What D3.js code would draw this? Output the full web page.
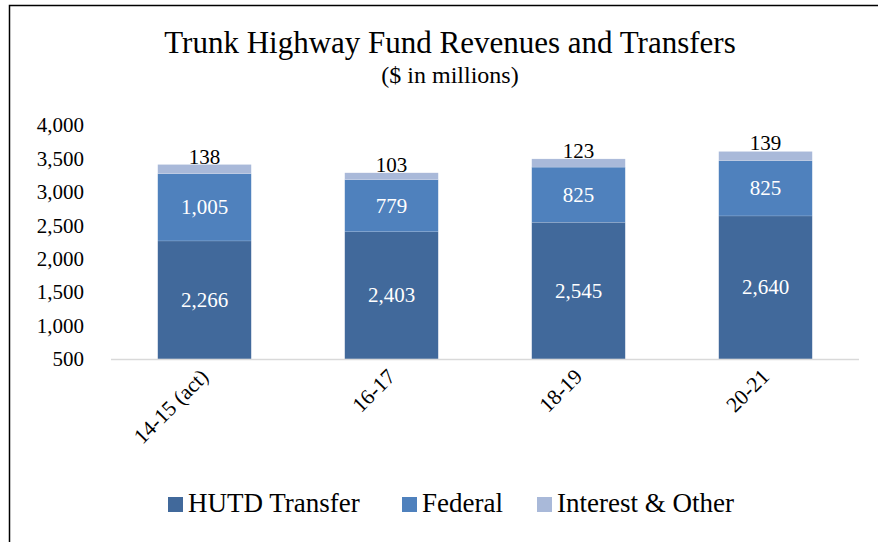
<!DOCTYPE html>
<html>
<head>
<meta charset="utf-8">
<script src="https://cdn.jsdelivr.net/npm/d3@7"></script>
<style>
  body { margin: 0; background: #fff; }
  svg { font-family: "Liberation Serif", "DejaVu Serif", serif; }
</style>
</head>
<body>
<div id="chart"></div>
<script>
const categories = ["14-15 (act)", "16-17", "18-19", "20-21"];
const hutd = [2266, 2403, 2545, 2640];
const federal = [1005, 779, 825, 825];
const interest = [138, 103, 123, 139];
const seriesNames = ["HUTD Transfer", "Federal", "Interest & Other"];
const seriesColors = ["#41699b", "#4f81bd", "#a9b9d9"];
const yTicks = [500, 1000, 1500, 2000, 2500, 3000, 3500, 4000];

const W = 878, H = 542;
const svg = d3.select("#chart").append("svg")
    .attr("width", W).attr("height", H);

// frame of the chart (runs off the right and bottom edge)
svg.append("rect")
    .attr("x", 9.5).attr("y", 5.5)
    .attr("width", 900).attr("height", 600)
    .attr("fill", "none").attr("stroke", "#000").attr("stroke-width", 1.5);

svg.append("text")
    .attr("x", 450).attr("y", 53)
    .attr("text-anchor", "middle")
    .style("font-size", "31px")
    .text("Trunk Highway Fund Revenues and Transfers");
svg.append("text")
    .attr("x", 450).attr("y", 83)
    .attr("text-anchor", "middle")
    .style("font-size", "24px")
    .text("($ in millions)");

const x = d3.scaleBand().domain(categories).range([111, 859])
    .paddingInner(0.5).paddingOuter(0.25);
const y = d3.scaleLinear().domain([500, 4000]).range([359, 125]);

const rows = categories.map((c, i) => ({cat: c, s0: hutd[i], s1: federal[i], s2: interest[i]}));
const stack = d3.stack().keys(["s0", "s1", "s2"])(rows);

// y axis labels
svg.append("g")
    .attr("transform", "translate(84,0)")
    .call(d3.axisLeft(y).tickValues(yTicks).tickSize(0).tickPadding(0).tickFormat(d3.format(",")))
    .call(g => g.select(".domain").remove())
    .selectAll("text")
    .style("font-family", "Liberation Serif, serif")
    .style("font-size", "21px")
    .attr("fill", "#000");

const layers = svg.append("g").selectAll("g")
    .data(stack).enter().append("g")
    .attr("fill", (d, i) => seriesColors[i]);

layers.selectAll("rect")
    .data(d => d).enter().append("rect")
    .attr("x", d => x(d.data.cat))
    .attr("width", x.bandwidth())
    .attr("y", d => y(d[1]))
    .attr("height", d => y(Math.max(d[0], 500)) - y(d[1]))
    .attr("stroke", "#fff").attr("stroke-opacity", 0.25).attr("stroke-width", 0.5);

// labels inside lower two series
stack.slice(0, 2).forEach(layer => {
    svg.append("g").selectAll("text")
        .data(layer).enter().append("text")
        .attr("x", d => x(d.data.cat) + x.bandwidth() / 2)
        .attr("y", d => (y(Math.max(d[0], 500)) + y(d[1])) / 2 + 7)
        .attr("text-anchor", "middle")
        .attr("fill", "#fff")
        .style("font-size", "21px")
        .text(d => d3.format(",")(d[1] - d[0]));
});
// labels above top series
svg.append("g").selectAll("text")
    .data(stack[2]).enter().append("text")
    .attr("x", d => x(d.data.cat) + x.bandwidth() / 2)
    .attr("y", d => y(d[1]) - 1)
    .attr("text-anchor", "middle")
    .attr("fill", "#000")
    .style("font-size", "21px")
    .text(d => d3.format(",")(d[1] - d[0]));

// x axis
svg.append("line")
    .attr("x1", 111).attr("x2", 859)
    .attr("y1", 359.5).attr("y2", 359.5)
    .attr("stroke", "#d9d9d9").attr("stroke-width", 1.5);

svg.append("g").selectAll("text")
    .data(categories).enter().append("text")
    .attr("transform", d => `translate(${x(d) + x.bandwidth() / 2 + 5},${378}) rotate(-45)`)
    .attr("text-anchor", "end")
    .style("font-size", "21.5px")
    .text(d => d);

// legend
const legendX = [168, 402, 537];
const legend = svg.append("g").selectAll("g")
    .data(seriesNames).enter().append("g")
    .attr("transform", (d, i) => `translate(${legendX[i]},497)`);
legend.append("rect")
    .attr("width", 15).attr("height", 15)
    .attr("fill", (d, i) => seriesColors[i]);
legend.append("text")
    .attr("x", 20).attr("y", 15)
    .style("font-size", "27px")
    .text(d => d);
</script>
</body>
</html>
